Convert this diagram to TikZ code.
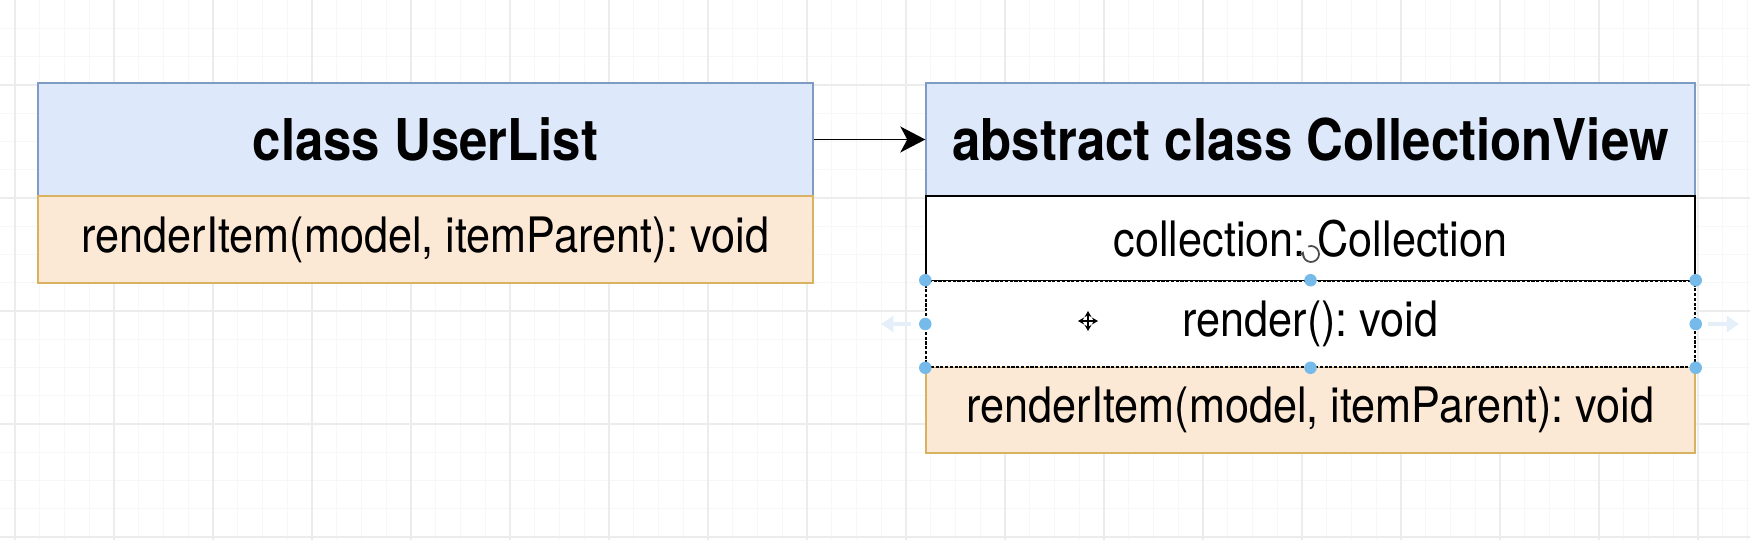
\documentclass[tikz,border=0pt]{standalone}
\usepackage{fontspec}
\setmainfont{TeX Gyre Heros}
\usetikzlibrary{arrows.meta}
\definecolor{hdrfill}{HTML}{DDE9FA}
\definecolor{hdrline}{HTML}{7E9BC6}
\definecolor{methfill}{HTML}{FBE8D5}
\definecolor{methline}{HTML}{D8B260}
\definecolor{gridminor}{HTML}{F7F7F7}
\definecolor{gridmajor}{HTML}{ECECEC}
\definecolor{handleblue}{HTML}{76BAEA}
\definecolor{ghostblue}{HTML}{E4EFFA}
\newcommand{\tall}[1]{\scalebox{1}[1.13]{#1}}
\frenchspacing

\begin{document}
\begin{tikzpicture}[x=0.02cm,y=-0.02cm]
\tikzstyle{every node}+=[inner sep=0pt]
\tikzstyle{hdr}=[draw=hdrline, fill=hdrfill, line width=0.9pt, font=\fontsize{29}{35}\selectfont\bfseries]
\tikzstyle{meth}=[draw=methline, fill=methfill, line width=0.9pt, font=\fontsize{24.6}{30}\selectfont]
\tikzstyle{attr}=[draw=black, fill=white, line width=0.9pt, font=\fontsize{24.6}{30}\selectfont]
\tikzstyle{selbox}=[attr, dash pattern=on 1.8pt off 0.9pt]
\tikzstyle{handle}=[circle, fill=handleblue, minimum size=0.25cm]
\tikzstyle{ghost}=[ghostblue, line width=0.1cm, -{Triangle[length=0.24cm,width=0.32cm]}]

\useasboundingbox (0,0) rectangle (1750,540);
\fill [white] (0,0) rectangle (1750,540);

% grid
\foreach \k in {0,...,70}
  \draw [gridminor, line width=0.5pt] ({15+24.75*\k},0) -- ({15+24.75*\k},540);
\foreach \m in {-10,...,8}
  \draw [gridminor, line width=0.5pt] (0,{311+28.25*\m}) -- (1750,{311+28.25*\m});
\foreach \k in {0,4,...,68}
  \draw [gridmajor, line width=0.6pt] ({15+24.75*\k},0) -- ({15+24.75*\k},540);
\foreach \m in {-8,-4,0,4,8}
  \draw [gridmajor, line width=0.6pt] (0,{311+28.25*\m}) -- (1750,{311+28.25*\m});

% class UserList
\node [hdr, minimum width=15.5cm, minimum height=2.26cm] (userlist) at (425.5,139.5) {\tall{class UserList}};
\node [meth, minimum width=15.5cm, minimum height=1.74cm] (userlistitem) at (425.5,239.5) {\tall{renderItem(model, itemParent): void}};

% abstract class CollectionView
\node [hdr, minimum width=15.38cm, minimum height=2.26cm] (collview) at (1310.5,139.5) {\tall{abstract class CollectionView}};
\node [attr, minimum width=15.38cm, minimum height=1.7cm] (collattr) at (1310.5,238.5) {\tall{collection: Collection}};
\node [meth, minimum width=15.38cm, minimum height=1.72cm] (collitem) at (1310.5,410) {\tall{renderItem(model, itemParent): void}};
\node [selbox, minimum width=15.38cm, minimum height=1.72cm] (collrender) at (1310.5,324) {\tall{render(): void}};

\draw [black, line width=1.1pt, -{Stealth[length=0.5cm,width=0.52cm,inset=0.14cm]}] (userlist) -- (collview);

% selection handles
\foreach \a/\n in {north west/hnw, north/hn, north east/hne, west/hw, east/he, south west/hsw, south/hs, south east/hse}
  \node [handle] (\n) at (collrender.\a) {};
\draw [ghost] ([xshift=-0.28cm]hw.center) -- ([xshift=-0.88cm]hw.center);
\draw [ghost] ([xshift=0.24cm]he.center) -- ([xshift=0.86cm]he.center);

% cursors
\coordinate (rot) at (1311,254);
\draw [black!70, line width=1pt, -{Stealth[length=3pt,width=3.5pt]}] (rot) ++(110:0.16cm) arc [start angle=110, end angle=-200, radius=0.16cm];
\coordinate (mv) at (1088,321);
\draw [white, line width=3pt] ([xshift=-0.21cm]mv) -- ([xshift=0.21cm]mv) ([yshift=-0.21cm]mv) -- ([yshift=0.21cm]mv);
\draw [black, line width=0.9pt, {Stealth[length=3.5pt,width=4pt]}-{Stealth[length=3.5pt,width=4pt]}] ([xshift=-0.2cm]mv) -- ([xshift=0.2cm]mv);
\draw [black, line width=0.9pt, {Stealth[length=3.5pt,width=4pt]}-{Stealth[length=3.5pt,width=4pt]}] ([yshift=-0.2cm]mv) -- ([yshift=0.2cm]mv);
\end{tikzpicture}
\end{document}
